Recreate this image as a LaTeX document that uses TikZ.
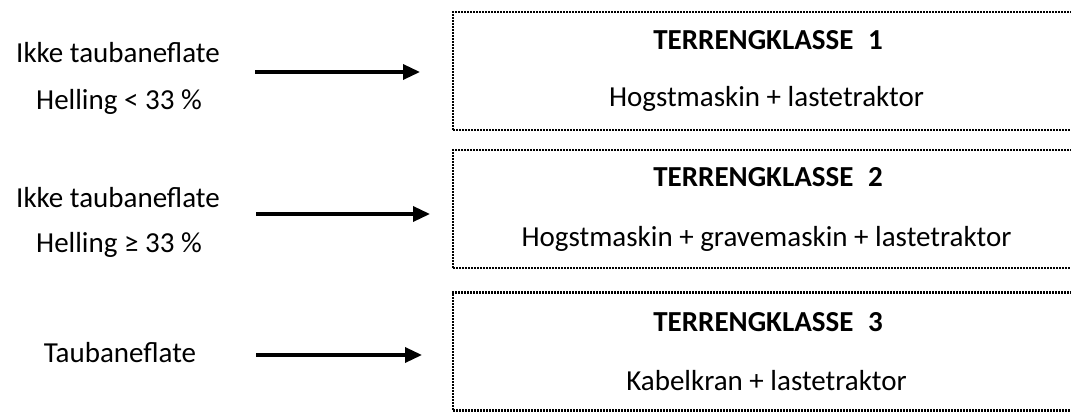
\documentclass[tikz,border=0pt]{standalone}
\usepackage{fontspec}
\setmainfont{Carlito}
\usetikzlibrary{arrows.meta}
\tikzset{
  tbox/.style={draw=black, line width=2.2pt, dash pattern=on 1.6pt off 1.4pt,
    minimum width=627pt, minimum height=118pt, inner sep=0pt},
  ttl/.style={anchor=base, inner sep=0pt, font=\fontsize{29}{34}\selectfont\bfseries},
  txt/.style={anchor=base, inner sep=0pt, font=\fontsize{29}{34}\selectfont},
  arr/.style={line width=3.4pt, -{Triangle[length=17pt,width=15pt]}}
}
\begin{document}
\begin{tikzpicture}[x=1pt,y=-1pt]
\useasboundingbox (0,0) rectangle (1071,414);
\clip (0,0) rectangle (1071,414);
% boxes
\node[tbox] (k1) at (766.5,71) {};
\node[tbox] (k2) at (766.5,209) {};
\node[tbox] (k3) at (766.5,351.5) {};
% box texts
\node[ttl] (t1) at (768,50) {TERRENGKLASSE\hspace{0.5em}1};
\node[txt] (m1) at (766.5,107) {Hogstmaskin + lastetraktor};
\node[ttl] (t2) at (768,187) {TERRENGKLASSE\hspace{0.5em}2};
\node[txt] (m2) at (766.5,247) {Hogstmaskin + gravemaskin + lastetraktor};
\node[ttl] (t3) at (768,331) {TERRENGKLASSE\hspace{0.5em}3};
\node[txt] (m3) at (766.5,390) {Kabelkran + lastetraktor};
% left texts
\node[txt] (a1) at (118,63) {Ikke taubaneflate};
\node[txt] (b1) at (119,110) {Helling < 33 \%};
\node[txt] (a2) at (118,208) {Ikke taubaneflate};
\node[txt] (b2) at (119,252) {Helling ≥ 33 \%};
\node[txt] (a3) at (120,362) {Taubaneflate};
% arrows
\coordinate (s1) at (255,72);  \coordinate (e1) at (420,72);
\coordinate (s2) at (256,214); \coordinate (e2) at (430,214);
\coordinate (s3) at (256,355); \coordinate (e3) at (422,355);
\draw[arr] (s1) -- (e1);
\draw[arr] (s2) -- (e2);
\draw[arr] (s3) -- (e3);
\end{tikzpicture}
\end{document}
